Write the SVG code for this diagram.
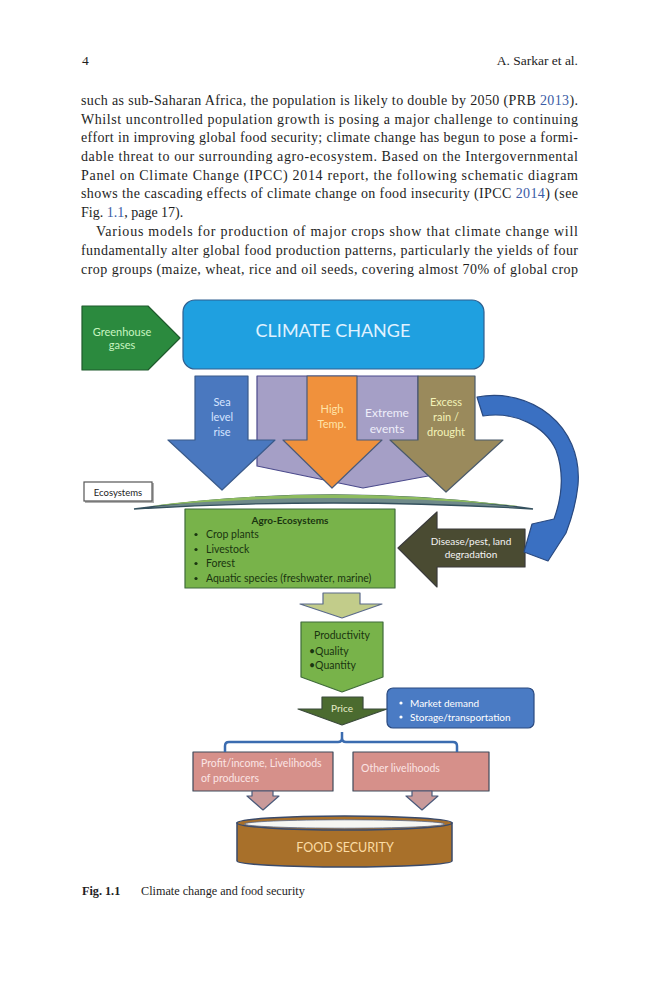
<svg xmlns="http://www.w3.org/2000/svg" width="659" height="1000" viewBox="0 0 659 1000">
<style>
.body{font-family:"Liberation Serif","Times New Roman",serif;font-size:14px;fill:#1e1e1e}
.lnk{fill:#3b5ba5}
.d{font-family:Lato,"Open Sans",sans-serif}
.c{text-anchor:middle}
.ln{stroke-width:1.2;stroke-linejoin:round}
</style>
<rect width="659" height="1000" fill="#ffffff"/>
<g id="page-text">
<text class="body" x="82" y="65" style="font-size:13.5px">4</text>
<text class="body" x="578" y="65" style="font-size:13.5px" text-anchor="end">A. Sarkar et al.</text>
<text class="body" x="81" y="105" textLength="497" lengthAdjust="spacing">such as sub-Saharan Africa, the population is likely to double by 2050 (PRB <tspan class="lnk">2013</tspan>).</text>
<text class="body" x="81" y="123.5" textLength="497" lengthAdjust="spacing">Whilst uncontrolled population growth is posing a major challenge to continuing</text>
<text class="body" x="81" y="142" textLength="497" lengthAdjust="spacing">effort in improving global food security; climate change has begun to pose a formi-</text>
<text class="body" x="81" y="161" textLength="497" lengthAdjust="spacing">dable threat to our surrounding agro-ecosystem. Based on the Intergovernmental</text>
<text class="body" x="81" y="179.5" textLength="497" lengthAdjust="spacing">Panel on Climate Change (IPCC) 2014 report, the following schematic diagram</text>
<text class="body" x="81" y="198" textLength="497" lengthAdjust="spacing">shows the cascading effects of climate change on food insecurity (IPCC <tspan class="lnk">2014</tspan>) (see</text>
<text class="body" x="81" y="217">Fig. <tspan class="lnk">1.1</tspan>, page 17).</text>
<text class="body" x="96" y="236" textLength="482" lengthAdjust="spacing">Various models for production of major crops show that climate change will</text>
<text class="body" x="81" y="255" textLength="497" lengthAdjust="spacing">fundamentally alter global food production patterns, particularly the yields of four</text>
<text class="body" x="81" y="274" textLength="497" lengthAdjust="spacing">crop groups (maize, wheat, rice and oil seeds, covering almost 70% of global crop</text>
</g>

<g id="greenhouse">
<polygon points="82,306 148,306 180,338 148,370 82,370" fill="#2b8a3e" stroke="#1f5a2c" class="ln"/>
<text class="d c" x="122" y="336" font-size="11" fill="#c8f5c0">Greenhouse</text>
<text class="d c" x="122" y="349" font-size="11" fill="#c8f5c0">gases</text>
</g>

<g id="climate-change">
<rect x="183" y="300" width="301" height="69" rx="12" fill="#1fa0e0" stroke="#2f5f8f" class="ln"/>
<text class="d c" x="333" y="336.5" font-size="18" fill="#e0f2ff">CLIMATE CHANGE</text>
</g>

<g id="extreme-events">
<polygon points="257,376 418,376 418,445 440,450 428,476 363,488 257,466" fill="#a59fc6" stroke="#4b4a8c" class="ln"/>
<text class="d c" x="387" y="416.5" font-size="12" fill="#eeeefa">Extreme</text>
<text class="d c" x="387" y="433" font-size="12" fill="#eeeefa">events</text>
</g>

<g id="sea-level">
<polygon points="195,376 248,376 248,440 275,440 222,490 168,440 195,440" fill="#4a78bf" stroke="#3a5a8a" class="ln"/>
<text class="d c" x="222" y="406" font-size="11" fill="#d6e4ff">Sea</text>
<text class="d c" x="222" y="421" font-size="11" fill="#d6e4ff">level</text>
<text class="d c" x="222" y="436" font-size="11" fill="#d6e4ff">rise</text>
</g>

<g id="high-temp">
<polygon points="307,376 357,376 357,440 382,440 332,488 283,440 307,440" fill="#f0913c" stroke="#4a5a7a" class="ln"/>
<text class="d c" x="332" y="413" font-size="11" fill="#ffe4a8">High</text>
<text class="d c" x="332" y="428" font-size="11" fill="#ffe4a8">Temp.</text>
</g>

<g id="excess-rain">
<polygon points="418,376 475,376 475,440 503,440 446,492 390,440 418,440" fill="#9a8a5c" stroke="#4a5a6a" class="ln"/>
<text class="d c" x="446" y="406" font-size="11" fill="#f3f3b8">Excess</text>
<text class="d c" x="446" y="421" font-size="11" fill="#f3f3b8">rain /</text>
<text class="d c" x="446" y="436" font-size="11" fill="#f3f3b8">drought</text>
</g>

<g id="ecosystems">
<rect x="85" y="483" width="69" height="20" fill="#b0b0b0"/>
<rect x="84" y="482" width="68" height="19" fill="#ffffff" stroke="#555555" stroke-width="1.2"/>
<text class="d c" x="118" y="495.5" font-size="9.5" fill="#222222">Ecosystems</text>
<path d="M134,509 Q333,481 533,509 Q333,497 134,509 Z" fill="#6f8a8a" stroke="#34505e" stroke-width="1.3"/>
<path d="M150,506 Q333,483 518,506 Q333,490 150,506 Z" fill="#8dbb5f"/>
</g>

<g id="agro-ecosystems">
<rect x="185" y="509" width="210" height="79" fill="#78b34a" stroke="#3f6b3a" class="ln"/>
<text class="d c" x="290" y="524" font-size="10" font-weight="bold" fill="#1a3510">Agro-Ecosystems</text>
<g fill="#1a3510">
<circle cx="196" cy="534.5" r="1.6"/><circle cx="196" cy="549.5" r="1.6"/><circle cx="196" cy="563.5" r="1.6"/><circle cx="196" cy="578.5" r="1.6"/>
</g>
<text class="d" x="206" y="538" font-size="10.5" fill="#1a3510">Crop plants</text>
<text class="d" x="206" y="553" font-size="10.5" fill="#1a3510">Livestock</text>
<text class="d" x="206" y="567" font-size="10.5" fill="#1a3510">Forest</text>
<text class="d" x="206" y="582" font-size="10.5" fill="#1a3510">Aquatic species (freshwater, marine)</text>
</g>

<g id="disease-pest">
<polygon points="398,548 437,512 437,529 525,529 525,567 437,567 437,587" fill="#4a4b32" stroke="#3a3a3a" class="ln"/>
<text class="d c" x="471" y="544.5" font-size="10" fill="#f4f4f4">Disease/pest, land</text>
<text class="d c" x="471" y="557.5" font-size="10" fill="#f4f4f4">degradation</text>
</g>

<g id="productivity">
<polygon points="301,622 383,622 383,677 342,692 301,677" fill="#78b34a" stroke="#3f6b3a" class="ln"/>
<text class="d c" x="342" y="639" font-size="10.5" fill="#1a3510">Productivity</text>
<text class="d" x="309" y="654.5" font-size="10.5" fill="#1a3510">•Quality</text>
<text class="d" x="309" y="669" font-size="10.5" fill="#1a3510">•Quantity</text>
</g>

<g id="price">
<polygon points="322,697 363,697 363,709 387,709 342,725 298,709 322,709" fill="#4b6b2f" stroke="#3a4a3a" class="ln"/>
<text class="d c" x="342" y="711.5" font-size="10" fill="#e6edc8">Price</text>
</g>

<g id="market">
<rect x="387" y="688" width="147" height="40" rx="6" fill="#4a7bc4" stroke="#2a4a80" class="ln"/>
<circle cx="401" cy="703" r="1.6" fill="#ffffff"/><circle cx="401" cy="717" r="1.6" fill="#ffffff"/>
<text class="d" x="410" y="706.5" font-size="10" fill="#ffffff">Market demand</text>
<text class="d" x="410" y="720.5" font-size="10" fill="#ffffff">Storage/transportation</text>
</g>

<g id="profit-income">
<rect x="193" y="752" width="140" height="39" fill="#d6908a" stroke="#3f4a5a" class="ln"/>
<text class="d" x="201" y="766.5" font-size="10.5" fill="#fbe4e4">Profit/income, Livelihoods</text>
<text class="d" x="201" y="781.5" font-size="10.5" fill="#fbe4e4">of producers</text>
</g>

<g id="other-livelihoods">
<rect x="353" y="752" width="136" height="39" fill="#d6908a" stroke="#3f4a5a" class="ln"/>
<text class="d" x="361" y="771.5" font-size="10.5" fill="#fbe4e4">Other livelihoods</text>
</g>

<g id="food-security">
<path d="M237,823 L237,861 A107.5,6 0 0 0 452,861 L452,823 Z" fill="#a8702a" stroke="#3a4a6a" stroke-width="1.5"/>
<ellipse cx="344.5" cy="823" rx="107.5" ry="7" fill="#a8702a" stroke="#3a4a6a" stroke-width="1.5"/>
<ellipse cx="344.5" cy="824" rx="100" ry="4.2" fill="#f6f6f2" stroke="#5a6a8a" stroke-width="0.8"/>
<text class="d c" x="345" y="851.5" font-size="12.5" fill="#fcdca4">FOOD SECURITY</text>
</g>

<g id="connectors">
<path d="M477,397 C530,387 583,425 578,485 C576,505 571,520 566,533 L548,561 L524,552 L532,524 L554,519 C562,497 564,472 556,450 C545,426 515,411 483,416 Z" fill="#3a70c2" stroke="#2a4a80" stroke-width="1.2" stroke-linejoin="round"/>
<polygon points="323,593 360,593 360,604 382,604 342,618 300,604 323,604" fill="#c2cc8a" stroke="#5a6a8a" class="ln"/>
<path d="M225,752 L225,746 Q225,742 229,742 L338,742 Q342,742 342,738 L342,732 M342,732 L342,738 Q342,742 346,742 L453,742 Q457,742 457,746 L457,752" fill="none" stroke="#3b6cb0" stroke-width="2.5"/>
<polygon points="252,791 273,791 273,796 279,796 263,810 247,796 252,796" fill="#c99a9a" stroke="#4a5a7a" class="ln"/>
<polygon points="412,791 432,791 432,796 438,796 422,810 406,796 412,796" fill="#c99a9a" stroke="#4a5a7a" class="ln"/>
</g>

<g id="caption">
<text class="body" x="82" y="895" style="font-size:12.2px"><tspan font-weight="bold">Fig. 1.1</tspan><tspan x="141">Climate change and food security</tspan></text>
</g>
</svg>
